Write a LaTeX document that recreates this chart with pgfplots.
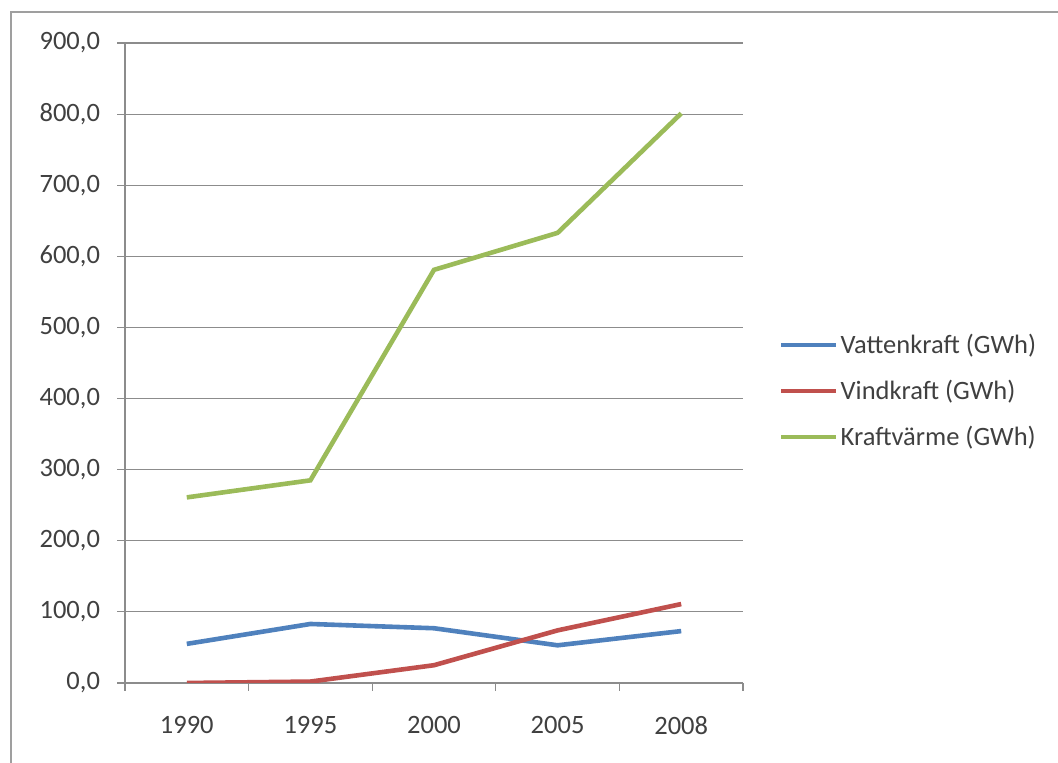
\documentclass[border=0pt]{standalone}
\usepackage{pgfplots}
\pgfplotsset{compat=1.18}
\usepackage{fontspec}
\setmainfont{Carlito}
\definecolor{vatten}{HTML}{4F81BD}
\definecolor{vind}{HTML}{C0504D}
\definecolor{kraft}{HTML}{9BBB59}
\definecolor{gridc}{HTML}{8C8C8C}
\definecolor{txt}{HTML}{404040}
\begin{document}
\begin{tikzpicture}
  % image is 1058 x 763 px, 1 px = 0.5pt
  \path[use as bounding box] (0,0) rectangle (529pt,381.5pt);
  \draw[gray!75, line width=1pt] (5.5pt,0) -- (5.5pt,375.5pt) -- (529pt,375.5pt);
  \begin{axis}[
    at={(62.5pt,40pt)},
    anchor=south west,
    scale only axis,
    width=309pt,
    height=320pt,
    font=\fontsize{13.25}{15}\selectfont,
    xmin=0.5, xmax=5.5,
    ymin=0, ymax=900,
    xtick={1,2,3,4,5},
    xticklabels={1990,1995,2000,2005,2008},
    minor xtick={0.5,1.5,2.5,3.5,4.5,5.5},
    ytick={0,100,...,900},
    yticklabel={\pgfmathprintnumber[fixed,fixed zerofill,precision=1,use comma]{\tick}},
    /pgf/number format/assume math mode=true,
    axis x line*=bottom,
    axis y line*=left,
    axis line style={-, gridc, line width=0.6pt},
    ymajorgrids=true,
    grid style={gridc, line width=0.6pt},
    tick align=outside,
    major tick length=4pt,
    minor tick length=4pt,
    x tick style={draw=none},
    minor x tick style={draw=gridc, line width=0.6pt},
    y tick style={gridc, line width=0.6pt},
    tick label style={text=txt},
    xticklabel style={yshift=-9pt},
    yticklabel style={xshift=-5pt},
    legend style={
      at={(1.048,0.456)},
      anchor=west,
      draw=none,
      fill=none,
      row sep=7.8pt,
      font=\fontsize{13.25}{15}\selectfont,
      text=txt,
      nodes={inner xsep=1pt},
    },
    legend cell align=left,
    legend image code/.code={
      \draw[#1] (0pt,0pt) -- (27.5pt,0pt);
    },
  ]
  \addplot[vatten, line width=2.3pt] coordinates {
    (1,55) (2,83) (3,77) (4,53) (5,73)
  };
  \addplot[vind, line width=2.3pt] coordinates {
    (1,0) (2,2) (3,25) (4,74) (5,111)
  };
  \addplot[kraft, line width=2.3pt] coordinates {
    (1,261) (2,285) (3,581) (4,633) (5,801)
  };
  \legend{Vattenkraft (GWh), Vindkraft (GWh), Kraftvärme (GWh)}
  \end{axis}
\end{tikzpicture}
\end{document}
